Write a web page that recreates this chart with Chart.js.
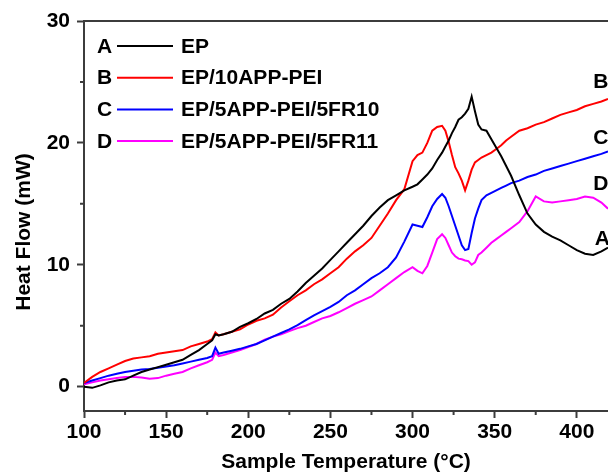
<!DOCTYPE html>
<html>
<head>
<meta charset="utf-8">
<script src="https://cdn.jsdelivr.net/npm/chart.js@4"></script>
<style>
  html, body { margin: 0; padding: 0; background: #fff; }
  #wrap { width: 608px; height: 473px; }
</style>
</head>
<body>
<div id="wrap"><canvas id="dscChart" width="608" height="473"></canvas></div>
<script>
// Sample temperature (°C) shared by all curves
const temps = [100,105,110,115,120,125,130,135,140,145,150,155,160,165,170,175,178,180,182,
  185,190,195,200,205,210,215,220,225,230,235,240,245,250,255,260,265,270,275,280,285,290,295,300,
  303,306,309,312,315,318,320,322,324,326,328,330,332,334,336,338,340,342,
  345,348,351,354,357,360,365,370,375,380,385,390,395,400,405,410,415,419];

// Heat flow (mW)
const heatEP = [0.0,-0.1,0.1,0.35,0.5,0.6,0.9,1.2,1.4,1.6,1.8,2.0,2.2,2.6,3.0,3.5,3.8,4.3,4.2,
  4.3,4.5,4.9,5.2,5.55,6.0,6.3,6.8,7.2,7.8,8.5,9.1,9.7,10.4,11.1,11.8,12.5,13.2,14.0,14.7,15.3,15.7,16.1,16.4,
  16.6,17.0,17.4,17.9,18.6,19.2,19.7,20.2,20.8,21.3,21.9,22.1,22.4,22.8,23.8,22.6,21.5,21.1,
  21.0,20.3,19.6,18.9,18.1,17.3,15.7,14.2,13.3,12.7,12.3,12.0,11.6,11.2,10.9,10.8,11.1,11.4];

const heatAppPei = [0.3,0.8,1.2,1.5,1.8,2.1,2.3,2.4,2.5,2.7,2.8,2.9,3.0,3.3,3.5,3.7,3.9,4.45,4.2,
  4.3,4.5,4.7,5.1,5.4,5.6,5.9,6.5,7.0,7.5,7.9,8.4,8.8,9.3,9.8,10.5,11.1,11.6,12.2,13.2,14.2,15.3,16.2,18.5,
  19.0,19.2,20.0,21.0,21.3,21.4,21.0,20.1,19.0,18.0,17.5,16.9,16.1,16.9,17.8,18.4,18.6,18.8,
  19.0,19.2,19.5,19.8,20.2,20.5,21.0,21.2,21.5,21.7,22.0,22.3,22.5,22.7,23.0,23.2,23.4,23.6];

const heatFr10 = [0.3,0.5,0.7,0.9,1.05,1.2,1.3,1.4,1.45,1.55,1.65,1.75,1.9,2.05,2.2,2.35,2.5,3.2,2.7,
  2.8,2.95,3.1,3.3,3.5,3.8,4.1,4.4,4.7,5.05,5.45,5.85,6.2,6.55,6.95,7.5,7.9,8.4,8.9,9.3,9.8,10.6,11.9,13.3,
  13.2,13.1,13.9,14.8,15.4,15.8,15.5,14.8,14.0,13.2,12.4,11.6,11.2,11.3,12.6,13.8,14.6,15.3,
  15.7,15.9,16.1,16.3,16.5,16.7,16.9,17.2,17.4,17.7,17.9,18.1,18.3,18.5,18.7,18.9,19.1,19.3];

const heatFr11 = [0.2,0.35,0.5,0.6,0.7,0.8,0.8,0.75,0.65,0.7,0.9,1.05,1.2,1.5,1.75,2.0,2.2,2.8,2.5,
  2.6,2.8,3.0,3.25,3.5,3.85,4.1,4.3,4.55,4.8,5.0,5.3,5.6,5.8,6.1,6.45,6.8,7.1,7.4,7.9,8.4,8.9,9.4,9.8,
  9.5,9.3,9.9,11.0,12.1,12.5,12.2,11.6,11.0,10.7,10.5,10.45,10.35,10.3,10.0,10.2,10.8,11.0,
  11.4,11.8,12.1,12.4,12.7,13.0,13.5,14.4,15.6,15.2,15.1,15.2,15.3,15.4,15.6,15.5,15.1,14.6];

const seriesNames = ['EP', 'EP/10APP-PEI', 'EP/5APP-PEI/5FR10', 'EP/5APP-PEI/5FR11'];
const seriesLetters = ['A', 'B', 'C', 'D'];
const seriesColors = ['#000000', '#ff0000', '#0000ff', '#ff00ff'];

// ticks
const xTickValues = [100, 150, 200, 250, 300, 350, 400];
const yTickValues = [0, 10, 20, 30];
const xMinorTicks = [125, 175, 225, 275, 325, 375];
const yMinorTicks = [5, 15, 25];

// curve letters at the right end (data coordinates)
const endLetters = ['B', 'C', 'D', 'A'];
const endLetterT = [410, 410, 410, 411];
const endLetterV = [25.0, 20.4, 16.6, 12.1];

const axisColor = '#3c3c3c';
const fontFamily = '"Liberation Sans", Arial, sans-serif';
const boldFont = { family: fontFamily, size: 21, weight: 'bold', lineHeight: 1 };
const canvasFont = 'bold 21px ' + fontFamily;

const pointsOf = vals => temps.map((t, i) => ({ x: t, y: vals[i] }));
const allSeries = [heatEP, heatAppPei, heatFr10, heatFr11];

// legend, minor ticks, top frame, end letters, y title
const overlay = {
  id: 'overlay',
  afterDraw(chart) {
    const { ctx, chartArea, scales: { x, y } } = chart;
    ctx.save();
    ctx.strokeStyle = axisColor;
    ctx.lineWidth = 2;
    ctx.beginPath();
    ctx.moveTo(chartArea.left, chartArea.top);
    ctx.lineTo(chartArea.right, chartArea.top);
    ctx.stroke();

    ctx.beginPath();
    xMinorTicks.forEach(v => {
      const px = x.getPixelForValue(v);
      ctx.moveTo(px, chartArea.bottom);
      ctx.lineTo(px, chartArea.bottom + 4);
    });
    yMinorTicks.forEach(v => {
      const py = y.getPixelForValue(v);
      ctx.moveTo(chartArea.left, py);
      ctx.lineTo(chartArea.left - 4, py);
    });
    ctx.stroke();

    ctx.font = canvasFont;
    ctx.fillStyle = '#000';
    ctx.textBaseline = 'middle';
    ctx.textAlign = 'left';
    chart.data.datasets.forEach((ds, i) => {
      const rowY = chartArea.top + 26 + i * 31.7;
      ctx.fillText(seriesLetters[i], chartArea.left + 13, rowY);
      ctx.strokeStyle = ds.borderColor;
      ctx.lineWidth = 2;
      ctx.beginPath();
      ctx.moveTo(chartArea.left + 33, rowY - 1);
      ctx.lineTo(chartArea.left + 89, rowY - 1);
      ctx.stroke();
      ctx.fillText(ds.label, chartArea.left + 97, rowY);
    });

    endLetters.forEach((s, i) => {
      ctx.fillText(s, x.getPixelForValue(endLetterT[i]), y.getPixelForValue(endLetterV[i]));
    });

    // y axis title
    ctx.save();
    ctx.translate(24, (chartArea.top + chartArea.bottom) / 2 + 16);
    ctx.rotate(-Math.PI / 2);
    ctx.textAlign = 'center';
    ctx.fillText('Heat Flow (mW)', 0, 0);
    ctx.restore();
    ctx.restore();
  }
};

new Chart(document.getElementById('dscChart'), {
  type: 'line',
  data: {
    datasets: allSeries.map((vals, i) => ({
      label: seriesNames[i],
      data: pointsOf(vals),
      borderColor: seriesColors[i],
      backgroundColor: seriesColors[i],
      borderWidth: 2,
      pointRadius: 0,
      tension: 0,
      fill: false
    }))
  },
  options: {
    responsive: false,
    devicePixelRatio: 1,
    animation: false,
    layout: { padding: { top: 21, right: 0, bottom: 0, left: 0 } },
    plugins: { legend: { display: false }, tooltip: { enabled: false } },
    scales: {
      x: {
        type: 'linear',
        min: 100,
        max: 419,
        afterFit(s) { s.height = 62; },
        afterBuildTicks(s) { s.ticks = xTickValues.map(v => ({ value: v })); },
        grid: { drawOnChartArea: false, drawTicks: true, tickLength: 7, tickWidth: 2, tickColor: axisColor },
        border: { display: true, color: axisColor, width: 2 },
        ticks: { color: '#000', font: boldFont, padding: 4, maxRotation: 0, autoSkip: false },
        title: { display: true, text: 'Sample Temperature (°C)', color: '#000', font: boldFont, padding: 0 }
      },
      y: {
        type: 'linear',
        min: -2,
        max: 30,
        afterFit(s) { s.width = 84; },
        afterBuildTicks(s) { s.ticks = yTickValues.map(v => ({ value: v })); },
        grid: { drawOnChartArea: false, drawTicks: true, tickLength: 7, tickWidth: 2, tickColor: axisColor },
        border: { display: true, color: axisColor, width: 2 },
        ticks: { color: '#000', font: boldFont, padding: 7 }
      }
    }
  },
  plugins: [overlay]
});
</script>
</body>
</html>
